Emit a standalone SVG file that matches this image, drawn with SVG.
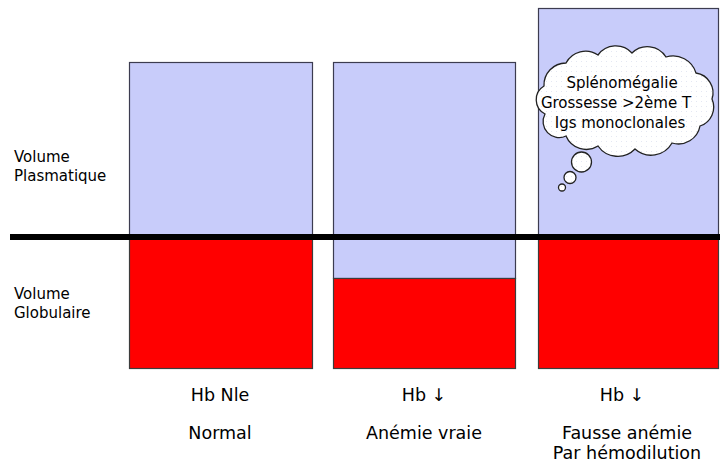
<svg xmlns="http://www.w3.org/2000/svg" width="720" height="466" viewBox="0 0 720 466">
  <style>
    .plasma { fill: #c8ccfa; stroke: #3c3c50; stroke-width: 1.2; }
    .globule { fill: #ff0000; stroke: #3c3c3c; stroke-width: 1.2; }
    .lbl { font-family: "DejaVu Sans", "Liberation Sans", sans-serif; font-size: 15px; fill: #000; }
    .cap { font-family: "DejaVu Sans", "Liberation Sans", sans-serif; font-size: 17.5px; fill: #000; text-anchor: middle; }
    .cloudtxt { font-family: "DejaVu Sans", "Liberation Sans", sans-serif; font-size: 15px; fill: #000; text-anchor: middle; }
    .bubble { fill: url(#dots); stroke: #222; stroke-width: 1.3; }
  </style>
  <defs>
    <pattern id="dots" width="5" height="5" patternUnits="userSpaceOnUse">
      <rect width="5" height="5" fill="#ffffff"/>
      <circle cx="1.5" cy="1.5" r="0.5" fill="#dcdfee"/>
    </pattern>
  </defs>

  <!-- row labels -->
  <g id="label-plasma">
    <text class="lbl" x="14" y="162">Volume</text>
    <text class="lbl" x="14" y="181">Plasmatique</text>
  </g>
  <g id="label-globule">
    <text class="lbl" x="14" y="299">Volume</text>
    <text class="lbl" x="14" y="318">Globulaire</text>
  </g>

  <!-- column: normal -->
  <g id="col-normal">
    <rect class="plasma" x="129.5" y="62.5" width="183" height="175"/>
    <rect class="globule" x="129.5" y="237.5" width="183" height="131"/>
    <text class="cap" x="220" y="401">Hb Nle</text>
    <text class="cap" x="220" y="439">Normal</text>
  </g>

  <!-- column: true anaemia -->
  <g id="col-anemie">
    <rect class="plasma" x="333.5" y="62.5" width="182" height="216"/>
    <rect class="globule" x="333.5" y="278.5" width="182" height="90"/>
    <text class="cap" x="424" y="401">Hb ↓</text>
    <text class="cap" x="424" y="439">Anémie vraie</text>
  </g>

  <!-- column: dilution anaemia -->
  <g id="col-hemodilution">
    <rect class="plasma" x="538.5" y="8.5" width="180" height="229"/>
    <rect class="globule" x="538.5" y="237.5" width="180" height="131"/>
    <text class="cap" x="622" y="401">Hb ↓</text>
    <text class="cap" x="627" y="439">Fausse anémie</text>
    <text class="cap" x="627" y="459">Par hémodilution</text>
  </g>

  <!-- thought cloud -->
  <g id="cloud">
    <path class="bubble" d="M545,114
      A16,16 0 0 1 544,86
      A22,22 0 0 1 566,63
      A22,22 0 0 1 598,55
      A22,22 0 0 1 632,53
      A22,22 0 0 1 666,57
      A24,24 0 0 1 696,73
      A20,20 0 0 1 712,99
      A20,20 0 0 1 700,126
      A22,22 0 0 1 672,143
      A24,24 0 0 1 635,149
      A24,24 0 0 1 598,146
      A22,22 0 0 1 566,136
      A16,16 0 0 1 545,114 Z"/>
    <circle class="bubble" cx="581.5" cy="162" r="10"/>
    <circle class="bubble" cx="570" cy="177.5" r="6"/>
    <circle class="bubble" cx="562" cy="187.5" r="3.5"/>
    <text class="cloudtxt" x="622" y="88">Splénomégalie</text>
    <text class="cloudtxt" x="616" y="108">Grossesse &gt;2ème T</text>
    <text class="cloudtxt" x="620" y="128">Igs monoclonales</text>
  </g>

  <!-- separator between plasma and red-cell volumes -->
  <g id="connectors">
    <line x1="10" y1="237" x2="720" y2="237" stroke="#000" stroke-width="6"/>
  </g>
</svg>
